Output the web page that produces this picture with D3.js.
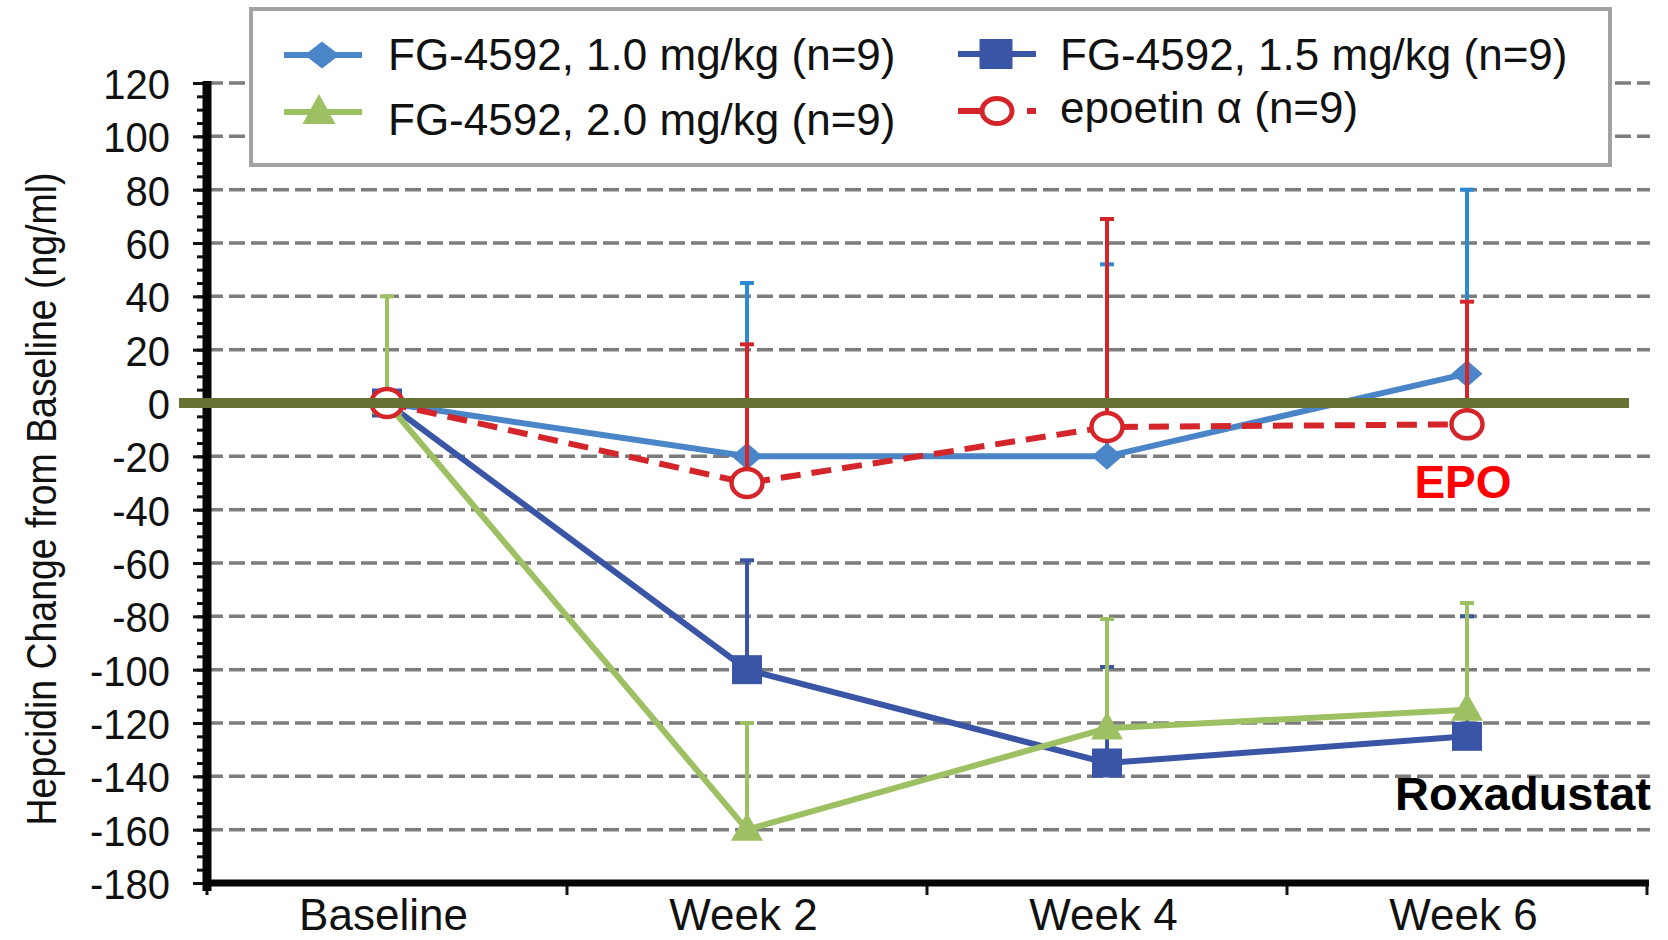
<!DOCTYPE html>
<html>
<head>
<meta charset="utf-8">
<script src="https://cdn.jsdelivr.net/npm/d3@7"></script>
<style>
  html, body { margin: 0; padding: 0; background: #fff; }
  svg { display: block; }
  text { font-family: "Liberation Sans", Arial, sans-serif; }
</style>
</head>
<body>
<svg id="chart" width="1668" height="940"></svg>
<script>
// Visits on the x axis
const categories = ["Baseline", "Week 2", "Week 4", "Week 6"];

// Mean hepcidin change from baseline (ng/ml) and upper error (ng/ml) per group
const dose10 = [0, -20, -20, 11];
const dose10Err = [0, 65, 72, 69];
const dose15 = [0, -100, -135, -125];
const dose15Err = [0, 41, 36, 45];
const dose20 = [0, -160, -122, -115];
const dose20Err = [40, 40, 41, 40];
const epoetin = [0, -30, -9, -8];
const epoetinErr = [0, 52, 78, 46];

// Axis ticks
const yMajorTicks = [-180, -160, -140, -120, -100, -80, -60, -40, -20, 0, 20, 40, 60, 80, 100, 120];
const yGridTicks = [-160, -140, -120, -100, -80, -60, -40, -20, 20, 40, 60, 80, 100, 120];

const legendLabels = ["FG-4592, 1.0 mg/kg (n=9)", "FG-4592, 1.5 mg/kg (n=9)", "FG-4592, 2.0 mg/kg (n=9)", "epoetin \u03b1 (n=9)"];
const yTitle = "Hepcidin Change from Baseline (ng/ml)";

const svg = d3.select("#chart");
const plotLeft = 207, plotRight = 1647, plotTop = 83, plotBottom = 883;

const x = d3.scaleBand().domain(categories).range([plotLeft, plotRight]);
const cx = c => x(c) + x.bandwidth() / 2;
const y = d3.scaleLinear().domain([-180, 120]).range([plotBottom, plotTop]);

// Dashed horizontal gridlines
svg.append("g").selectAll("line").data(yGridTicks).join("line")
  .attr("x1", plotLeft).attr("x2", 1650)
  .attr("y1", d => y(d)).attr("y2", d => y(d))
  .attr("stroke", "#7c7c7c").attr("stroke-width", 3.5)
  .attr("stroke-dasharray", "16,6");

// Y axis: major ticks with labels, minor ticks every 5
const ySx = 0.93;
const yAxisMajor = d3.axisLeft(y).tickValues(yMajorTicks).tickSize(14).tickFormat(d => String(d));
const gy = svg.append("g").attr("transform", `translate(${plotLeft},0)`).call(yAxisMajor);
gy.select(".domain").remove();
gy.selectAll(".tick line").attr("stroke", "#111").attr("stroke-width", 3);
gy.selectAll(".tick text").attr("font-size", 43).attr("fill", "#111")
  .attr("font-family", "Liberation Sans, Arial, sans-serif")
  .attr("transform", `scale(${ySx},1)`)
  .attr("x", -37 / ySx).attr("dy", "0.36em");

const yAxisMinor = d3.axisLeft(y).tickValues(d3.range(-180, 121, 5)).tickSize(10).tickFormat("");
const gyMinor = svg.append("g").attr("transform", `translate(${plotLeft},0)`).call(yAxisMinor);
gyMinor.select(".domain").remove();
gyMinor.selectAll(".tick line").attr("stroke", "#111").attr("stroke-width", 3);

// X axis: ticks between categories, labels centred under each
const xAxis = d3.axisBottom(d3.scalePoint().domain(categories).range([cx(categories[0]), cx(categories[3])]))
  .tickSize(0);
const gx = svg.append("g").attr("transform", `translate(-4,${plotBottom})`).call(xAxis);
gx.select(".domain").remove();
gx.selectAll(".tick text").attr("font-size", 44).attr("fill", "#111")
  .attr("font-family", "Liberation Sans, Arial, sans-serif")
  .attr("y", 47).attr("dy", 0);

const edges = categories.map(c => x(c)).concat([plotRight]);
svg.append("g").selectAll("line").data(edges).join("line")
  .attr("x1", d => d).attr("x2", d => d)
  .attr("y1", plotBottom).attr("y2", plotBottom + 12)
  .attr("stroke", "#111").attr("stroke-width", 3);

// Axis lines
svg.append("line").attr("x1", plotLeft).attr("x2", plotLeft).attr("y1", plotTop - 2).attr("y2", plotBottom + 8)
  .attr("stroke", "#050505").attr("stroke-width", 9);
svg.append("line").attr("x1", plotLeft - 4).attr("x2", plotRight + 2).attr("y1", plotBottom).attr("y2", plotBottom)
  .attr("stroke", "#050505").attr("stroke-width", 7);

// Marker shapes (width, height)
const shape = {
  diamond: (w, h) => `M${-w / 2},0L0,${-h / 2}L${w / 2},0L0,${h / 2}Z`,
  square: (w, h) => `M${-w / 2},${-h / 2}H${w / 2}V${h / 2}H${-w / 2}Z`,
  triangle: (w, h) => `M0,${-h * 0.6}L${w / 2},${h * 0.4}H${-w / 2}Z`
};

const series = [
  { values: dose10, err: dose10Err, color: "#4a85c8", errColor: "#2c89d4", marker: "diamond", w: 31, h: 27 },
  { values: dose15, err: dose15Err, color: "#3a54a6", errColor: "#3a54a6", marker: "square", w: 30, h: 29 },
  { values: dose20, err: dose20Err, color: "#9dc063", errColor: "#9dc063", marker: "triangle", w: 32, h: 28 },
  { values: epoetin, err: epoetinErr, color: "#d4252b", errColor: "#d4252b", marker: "circle", w: 31, h: 28, dash: "20,11" }
];

const line = d3.line().x((d, i) => cx(categories[i])).y(d => y(d));

series.forEach(s => {
  const g = svg.append("g");
  // upward error bars
  const eb = s.values.map((v, i) => ({ c: categories[i], v, e: s.err[i] })).filter(d => d.e > 0);
  g.selectAll(".eb").data(eb).join("line")
    .attr("x1", d => cx(d.c)).attr("x2", d => cx(d.c))
    .attr("y1", d => y(d.v)).attr("y2", d => y(d.v + d.e))
    .attr("stroke", s.errColor).attr("stroke-width", 4);
  g.selectAll(".cap").data(eb).join("line")
    .attr("x1", d => cx(d.c) - 7).attr("x2", d => cx(d.c) + 7)
    .attr("y1", d => y(d.v + d.e)).attr("y2", d => y(d.v + d.e))
    .attr("stroke", s.errColor).attr("stroke-width", 4);
  // connecting line
  g.append("path").attr("d", line(s.values)).attr("fill", "none")
    .attr("stroke", s.color).attr("stroke-width", 6)
    .attr("stroke-dasharray", s.dash || null);
  // markers
  if (s.marker === "circle") {
    g.selectAll(".m").data(s.values).join("ellipse")
      .attr("cx", (d, i) => cx(categories[i])).attr("cy", d => y(d))
      .attr("rx", s.w / 2).attr("ry", s.h / 2)
      .attr("fill", "#fff").attr("stroke", s.color).attr("stroke-width", 4.5);
  } else {
    g.selectAll(".m").data(s.values).join("path")
      .attr("d", shape[s.marker](s.w, s.h))
      .attr("transform", (d, i) => `translate(${cx(categories[i])},${y(d)})`)
      .attr("fill", s.color);
  }
});

// Zero reference line
svg.append("line").attr("x1", 179).attr("x2", 1629).attr("y1", y(0)).attr("y2", y(0))
  .attr("stroke", "#667232").attr("stroke-width", 10);

// Legend
const lg = svg.append("g");
lg.append("rect").attr("x", 251).attr("y", 9).attr("width", 1359).attr("height", 156)
  .attr("fill", "#fff").attr("stroke", "#a3a3a3").attr("stroke-width", 4);
const legendPos = [
  { lx: 284, mx: 322, tx: 388, cy: 55, ty: 70, s: series[0], label: legendLabels[0] },
  { lx: 958, mx: 996, tx: 1060, cy: 54, ty: 70, s: series[1], label: legendLabels[1] },
  { lx: 284, mx: 319, tx: 388, cy: 112, ty: 135, s: series[2], label: legendLabels[2] },
  { lx: 958, mx: 997, tx: 1060, cy: 111, ty: 123, s: series[3], label: legendLabels[3] }
];
legendPos.forEach(p => {
  if (p.s.dash) {
    lg.append("line").attr("x1", p.lx).attr("x2", p.lx + 22).attr("y1", p.cy).attr("y2", p.cy)
      .attr("stroke", p.s.color).attr("stroke-width", 6);
    lg.append("line").attr("x1", p.mx + 30).attr("x2", p.mx + 39).attr("y1", p.cy).attr("y2", p.cy)
      .attr("stroke", p.s.color).attr("stroke-width", 6);
    lg.append("ellipse").attr("cx", p.mx).attr("cy", p.cy).attr("rx", 15).attr("ry", 12.5)
      .attr("fill", "#fff").attr("stroke", p.s.color).attr("stroke-width", 5);
  } else {
    lg.append("line").attr("x1", p.lx).attr("x2", p.lx + 78).attr("y1", p.cy).attr("y2", p.cy)
      .attr("stroke", p.s.color).attr("stroke-width", 6);
    const lw = p.s.marker === "diamond" ? 35 : 33;
    const lh = p.s.marker === "diamond" ? 27 : 30;
    lg.append("path").attr("d", shape[p.s.marker](lw, lh)).attr("transform", `translate(${p.mx},${p.cy})`)
      .attr("fill", p.s.color);
  }
  lg.append("text").attr("x", p.tx).attr("y", p.ty)
    .attr("font-size", 44).attr("fill", "#111").text(p.label);
});

// Y axis title (rotated, slightly condensed)
svg.append("text")
  .attr("transform", `translate(56,499) rotate(-90) scale(0.87,1)`)
  .attr("text-anchor", "middle").attr("font-size", 43).attr("fill", "#111")
  .text(yTitle);

// Group annotations
svg.append("text").attr("x", 1463).attr("y", 498).attr("text-anchor", "middle")
  .attr("font-size", 46).attr("font-weight", "bold").attr("fill", "#ff0000").text("EPO");
svg.append("text").attr("x", 1395).attr("y", 810)
  .attr("font-size", 47).attr("font-weight", "bold").attr("fill", "#000").text("Roxadustat");
</script>
</body>
</html>
